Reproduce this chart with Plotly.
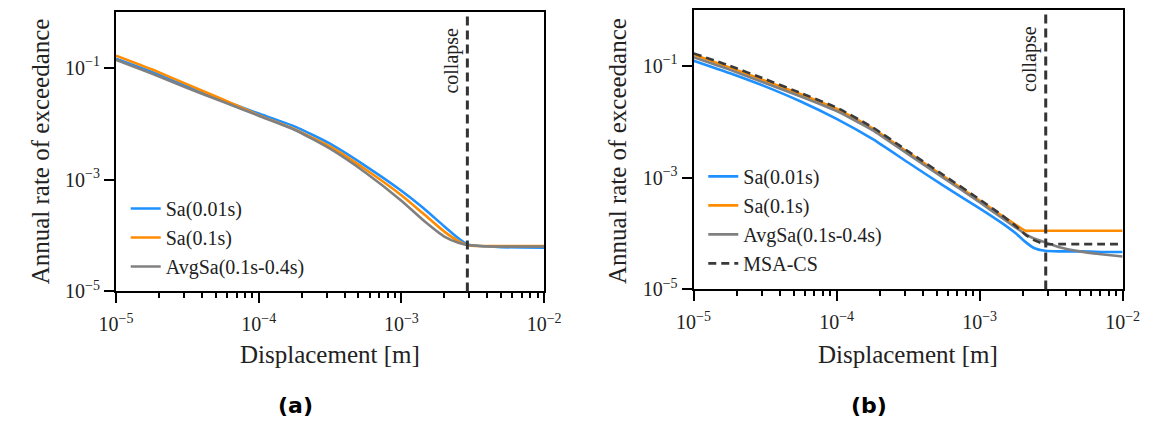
import math
import plotly.graph_objects as go

# ---------------- data ----------------
# Panel (a)
disp_a = [1e-5, 1.78e-5, 3.16e-5, 5.62e-5, 1e-4, 1.78e-4, 3.16e-4, 5.62e-4,
          1e-3, 1.41e-3, 2.0e-3, 2.51e-3, 2.9e-3, 3.55e-3, 5.0e-3, 1e-2]
sa001_a = [0.144, 0.0839, 0.0460, 0.0259, 0.0151, 0.00891, 0.00437, 0.00174,
           6.31e-4, 3.16e-4, 1.45e-4, 8.91e-5, 6.92e-5, 6.46e-5, 6.17e-5, 6.03e-5]
sa01_a = [0.164, 0.0933, 0.0501, 0.0269, 0.0141, 0.00794, 0.00389, 0.00151,
          5.25e-4, 2.51e-4, 1.17e-4, 7.94e-5, 6.76e-5, 6.46e-5, 6.46e-5, 6.46e-5]
avgsa_a = [0.138, 0.0785, 0.0431, 0.0245, 0.0138, 0.00776, 0.00355, 0.00132,
           4.17e-4, 1.91e-4, 9.55e-5, 7.41e-5, 6.76e-5, 6.46e-5, 6.31e-5, 6.31e-5]

# Panel (b)
disp_b = [1e-5, 1.78e-5, 3.16e-5, 5.62e-5, 1e-4, 1.78e-4, 3.16e-4, 5.62e-4,
          1e-3, 1.41e-3, 1.78e-3, 2.09e-3, 2.40e-3, 2.88e-3, 3.55e-3, 5.01e-3, 7.08e-3, 1e-2]
sa001_b = [0.123, 0.0741, 0.0427, 0.0229, 0.0112, 0.00490, 0.00186, 7.08e-4,
           2.82e-4, 1.58e-4, 1.02e-4, 7.08e-5, 5.50e-5, 4.90e-5, 4.79e-5, 4.79e-5, 4.68e-5, 4.68e-5]
sa01_b = [0.158, 0.0933, 0.0537, 0.0309, 0.0170, 0.00759, 0.00282, 0.00105,
          3.89e-4, 2.14e-4, 1.45e-4, 1.12e-4, 1.12e-4, 1.12e-4, 1.12e-4, 1.12e-4, 1.12e-4, 1.12e-4]
avgsa_b = [0.141, 0.0851, 0.0490, 0.0282, 0.0155, 0.00708, 0.00263, 9.77e-4,
           3.63e-4, 1.95e-4, 1.29e-4, 9.77e-5, 8.13e-5, 6.92e-5, 5.75e-5, 4.79e-5, 4.27e-5, 3.89e-5]
msacs_b = [0.166, 0.100, 0.0575, 0.0324, 0.0178, 0.00794, 0.00295, 0.00110,
           4.07e-4, 2.19e-4, 1.38e-4, 9.55e-5, 7.59e-5, 6.46e-5, 6.46e-5, 6.46e-5, 6.46e-5, 6.46e-5]

collapse_disp = 0.0029

series_names = ["Sa(0.01s)", "Sa(0.1s)", "AvgSa(0.1s-0.4s)", "MSA-CS"]
colors = ["#1E90FF", "#FF8C00", "#808080", "#3a3a3a"]

x_tickvals = [1e-5, 1e-4, 1e-3, 1e-2]
x_ticktext = ["10<sup>−5</sup>", "10<sup>−4</sup>", "10<sup>−3</sup>", "10<sup>−2</sup>"]
y_tickvals = [1e-5, 1e-3, 1e-1]
y_ticktext = ["10<sup>−5</sup>", "10<sup>−3</sup>", "10<sup>−1</sup>"]
minor_x = [m * 10.0 ** e for e in (-5, -4, -3) for m in range(2, 10)]

SERIF = "Liberation Serif"
TXT = "#222222"
W, H = 1160, 432

fig = go.Figure()

def add(x, y, name, color, xa, ya, legend, dash=None, width=2.6):
    fig.add_trace(go.Scatter(
        x=x, y=y, name=name, mode="lines", xaxis=xa, yaxis=ya, legend=legend,
        line=dict(color=color, width=width, dash=dash, shape="spline", smoothing=0.5),
    ))

add(disp_a, sa001_a, series_names[0], colors[0], "x", "y", "legend")
add(disp_a, sa01_a, series_names[1], colors[1], "x", "y", "legend")
add(disp_a, avgsa_a, series_names[2], colors[2], "x", "y", "legend")

add(disp_b, sa001_b, series_names[0], colors[0], "x2", "y2", "legend2")
add(disp_b, sa01_b, series_names[1], colors[1], "x2", "y2", "legend2")
add(disp_b, avgsa_b, series_names[2], colors[2], "x2", "y2", "legend2")
add(disp_b, msacs_b, series_names[3], colors[3], "x2", "y2", "legend2", dash="8px,5px", width=2.6)

def px_dom(a, b):
    return [a / W, b / W]

def py_dom(top, bottom):
    return [1 - bottom / H, 1 - top / H]

axis_common = dict(
    type="log", showgrid=False, zeroline=False, showline=True, mirror=True,
    linecolor="black", linewidth=2, ticks="outside", ticklen=10, tickwidth=2,
    tickcolor="black", tickfont=dict(family=SERIF, size=20, color=TXT),
)

xa = dict(axis_common, range=[-5, -2], tickmode="array", tickvals=x_tickvals, ticktext=x_ticktext,
          ticklabelstandoff=4,
          minor=dict(tickmode="array", tickvals=minor_x, ticks="outside", ticklen=5,
                     tickwidth=1.5, tickcolor="black", showgrid=False))
ya = dict(axis_common, range=[-5, 0], tickmode="array", tickvals=y_tickvals, ticktext=y_ticktext)

legend_common = dict(xanchor="left", yanchor="top", bgcolor="rgba(0,0,0,0)",
                     font=dict(family=SERIF, size=20, color=TXT), itemwidth=30, tracegroupgap=0)

fig.update_layout(
    width=W, height=H, margin=dict(l=0, r=0, t=0, b=0),
    paper_bgcolor="white", plot_bgcolor="white", showlegend=True,
    font=dict(family=SERIF, color=TXT),
    xaxis=dict(xa, domain=px_dom(102, 543), anchor="y"),
    yaxis=dict(ya, domain=py_dom(12, 299), anchor="x"),
    xaxis2=dict(xa, domain=px_dom(697, 1139), anchor="y2"),
    yaxis2=dict(ya, domain=py_dom(10, 297), anchor="x2"),
    legend=dict(legend_common, x=112 / W, y=1 - 194 / H),
    legend2=dict(legend_common, x=707 / W, y=1 - 161 / H),
)

# collapse lines and labels (annotation x on a log axis is given as log10)
for xr, yr in (("x", "y domain"), ("x2", "y2 domain")):
    fig.add_shape(type="line", xref=xr, yref=yr, x0=collapse_disp, x1=collapse_disp, y0=0, y1=1,
                  line=dict(color="#333333", width=3, dash="9px,5px"))
    fig.add_annotation(xref=xr, yref=yr, x=math.log10(collapse_disp), y=1, text="collapse",
                       textangle=-90, showarrow=False, xanchor="right", yanchor="top",
                       xshift=-2, yshift=-14, font=dict(family=SERIF, size=20, color=TXT))

# axis titles
for cx in (322, 918):
    fig.add_annotation(xref="paper", yref="paper", x=cx / W, y=1 - 364 / H, text="Displacement [m]",
                       xanchor="center", yanchor="middle", showarrow=False,
                       font=dict(family=SERIF, size=25, color=TXT))
for cx in (24, 618):
    fig.add_annotation(xref="paper", yref="paper", x=cx / W, y=1 - 155 / H,
                       text="Annual rate of exceedance", textangle=-90, showarrow=False,
                       xanchor="center", yanchor="middle",
                       font=dict(family=SERIF, size=25, color=TXT))

# panel labels
for cx, lab in ((287, "(a)"), (878, "(b)")):
    fig.add_annotation(xref="paper", yref="paper", x=cx / W, y=1 - 416 / H, text="<b>" + lab + "</b>",
                       xanchor="center", yanchor="middle", showarrow=False,
                       font=dict(family="DejaVu Sans", size=22, color="black"))

fig.write_html("out.html")
